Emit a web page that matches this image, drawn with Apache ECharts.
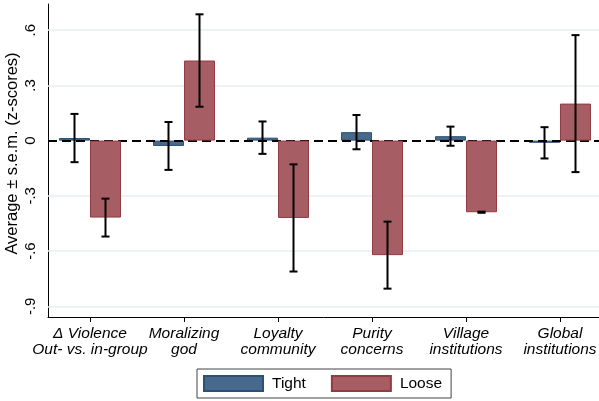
<!DOCTYPE html>
<html>
<head>
<meta charset="utf-8">
<script src="https://cdn.jsdelivr.net/npm/echarts@6/dist/echarts.min.js"></script>
<style>
  html, body { margin: 0; padding: 0; background: #fff; }
  #chart { width: 599px; height: 401px; }
</style>
</head>
<body>
<div id="chart"></div>
<script>
// Group means and standard errors (z-scores)
const categories = [
  'Δ Violence\nOut- vs. in-group',
  'Moralizing\ngod',
  'Loyalty\ncommunity',
  'Purity\nconcerns',
  'Village\ninstitutions',
  'Global\ninstitutions'
];
const tightMean = [0.014, -0.029, 0.016, 0.046, 0.024, -0.012];
const tightSem  = [0.131, 0.130, 0.088, 0.093, 0.052, 0.085];
const looseMean = [-0.418, 0.435, -0.420, -0.622, -0.389, 0.201];
const looseSem  = [0.103, 0.251, 0.291, 0.182, 0.003, 0.372];
const yTicks = [-0.9, -0.6, -0.3, 0, 0.3, 0.6];

const BAR_W = 31;
const FONT = '"Liberation Sans", Arial, Helvetica, sans-serif';
const tightColor = '#47698b', tightEdge = '#2b5276';
const looseColor = '#a65e64', looseEdge = '#913b43';

const idx = categories.map((_, i) => i);
const barData = means => means.map((m, i) => [i, m]);
const errData = (means, sems) => means.map((m, i) => [i, m - sems[i], m + sems[i]]);

function fmtTick(v) {
  if (Math.abs(v) < 1e-9) return '0';
  return (v < 0 ? '-' : '') + Math.abs(v).toFixed(1).replace(/^0/, '');
}

// Error bars drawn at the centre of each bar in the pair (shift in px)
function errorBars(shift) {
  return function (params, api) {
    const x = api.value(0);
    const lo = api.coord([x, api.value(1)]);
    const hi = api.coord([x, api.value(2)]);
    const cx = lo[0] + shift;
    const cap = 4;
    const style = { stroke: '#000', lineWidth: 2 };
    return {
      type: 'group',
      children: [
        { type: 'line', shape: { x1: cx, y1: hi[1], x2: cx, y2: lo[1] }, style },
        { type: 'line', shape: { x1: cx - cap, y1: hi[1], x2: cx + cap, y2: hi[1] }, style },
        { type: 'line', shape: { x1: cx - cap, y1: lo[1], x2: cx + cap, y2: lo[1] }, style }
      ]
    };
  };
}

const chart = echarts.init(document.getElementById('chart'), null, { renderer: 'canvas' });

chart.setOption({
  animation: false,
  backgroundColor: '#fff',
  grid: { left: 48, right: 0, top: 4, bottom: 84, containLabel: false, outerBoundsMode: 'none' },
  xAxis: {
    type: 'value',
    min: -0.4468,
    max: 5.4149,
    splitLine: { show: false },
    axisLine: { onZero: false, lineStyle: { color: '#000', width: 1 } },
    axisTick: { customValues: idx, length: 5, lineStyle: { color: '#000' } },
    axisLabel: {
      customValues: idx,
      formatter: v => categories[Math.round(v)],
      showMinLabel: true,
      showMaxLabel: true,
      hideOverlap: false,
      fontFamily: FONT,
      fontStyle: 'italic',
      fontSize: 15.5,
      lineHeight: 16,
      color: '#000',
      margin: 9
    }
  },
  yAxis: {
    type: 'value',
    min: -0.958,
    max: 0.742,
    name: 'Average ± s.e.m. (z-scores)',
    nameLocation: 'middle',
    nameRotate: 90,
    nameGap: 27,
    nameMoveOverlap: false,
    nameTextStyle: { fontFamily: FONT, fontSize: 16.5, color: '#000', padding: [0, 0, 0, 14] },
    splitLine: { show: false },
    axisLine: { show: true, onZero: false, lineStyle: { color: '#000', width: 1 } },
    axisTick: { show: false },
    axisLabel: {
      customValues: yTicks,
      formatter: fmtTick,
      showMinLabel: true,
      showMaxLabel: true,
      rotate: 90,
      fontFamily: FONT,
      fontSize: 15,
      color: '#000',
      margin: 9.5
    }
  },
  legend: {
    left: 197,
    top: 369,
    padding: [6, 9, 6, 6],
    borderColor: '#444',
    borderWidth: 1,
    itemWidth: 59,
    itemHeight: 15,
    itemGap: 25,
    icon: 'rect',
    textStyle: { fontFamily: FONT, fontSize: 15.5, color: '#000', padding: [0, 0, 0, 4] },
    data: ['Tight', 'Loose']
  },
  series: [
    {
      name: 'Tight',
      type: 'bar',
      z: 2,
      barWidth: BAR_W,
      barGap: '0%',
      itemStyle: { color: tightColor, borderColor: tightEdge, borderWidth: 1 },
      data: barData(tightMean),
      markLine: {
        silent: true,
        symbol: 'none',
        z: 1,
        label: { show: false },
        lineStyle: { color: '#e8eef2', width: 1.6, type: 'solid' },
        data: yTicks.filter(v => v !== 0).map(v => ({ yAxis: v }))
      }
    },
    {
      name: 'Loose',
      type: 'bar',
      z: 4,
      barWidth: BAR_W,
      barGap: '0%',
      itemStyle: { color: looseColor, borderColor: looseEdge, borderWidth: 1 },
      data: barData(looseMean)
    },
    {
      name: 'zero',
      type: 'line',
      z: 3,
      data: [],
      markLine: {
        silent: true,
        symbol: 'none',
        z: 3,
        label: { show: false },
        lineStyle: { color: '#000', width: 2, type: [9, 5] },
        data: [{ yAxis: 0 }]
      }
    },
    {
      name: 'Tight s.e.m.',
      type: 'custom',
      z: 5,
      renderItem: errorBars(-BAR_W / 2),
      data: errData(tightMean, tightSem)
    },
    {
      name: 'Loose s.e.m.',
      type: 'custom',
      z: 5,
      renderItem: errorBars(BAR_W / 2),
      data: errData(looseMean, looseSem)
    }
  ]
});
</script>
</body>
</html>
